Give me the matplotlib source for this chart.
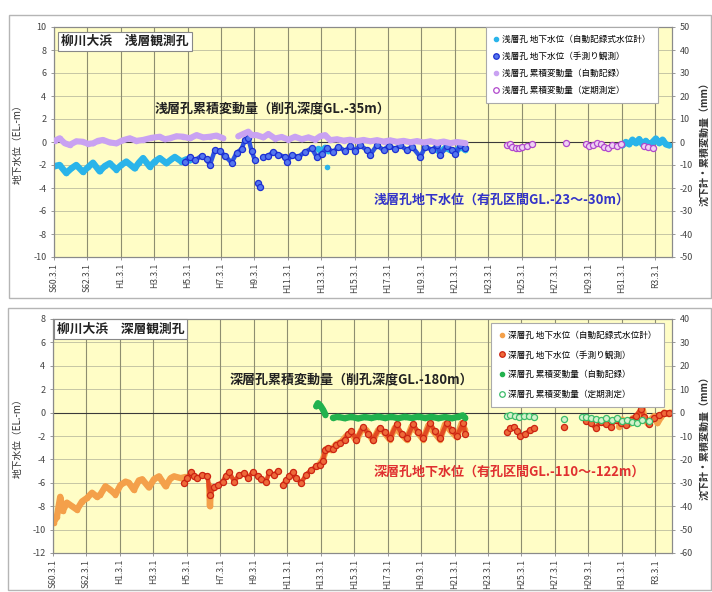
import numpy as np
import matplotlib
matplotlib.use('Agg')
import matplotlib.pyplot as plt
from matplotlib.lines import Line2D
from matplotlib.patches import Rectangle

plt.rcParams['font.family'] = ['Noto Sans CJK JP', 'DejaVu Sans']
nan = np.nan

# ---------------- axis ticks ----------------
tick_years = [1985.167 + 2 * k for k in range(19)]
tick_labels = ['S60.3.1', 'S62.3.1', 'H1.3.1', 'H3.3.1', 'H5.3.1', 'H7.3.1', 'H9.3.1',
               'H11.3.1', 'H13.3.1', 'H15.3.1', 'H17.3.1', 'H19.3.1', 'H21.3.1',
               'H23.3.1', 'H25.3.1', 'H27.3.1', 'H29.3.1', 'H31.3.1', 'R3.3.1']
x_range = (1985.167, 2022.167)

# ---------------- shallow well (top) ----------------
# groundwater level, automatic recorder (m)
sh_auto_yr = [1985.2, 1985.5, 1985.9, 1986.2, 1986.5, 1986.9, 1987.2, 1987.5, 1987.9, 1988.2,
              1988.5, 1988.9, 1989.2, 1989.5, 1990.0, 1990.25, 1990.5, 1990.9, 1991.2, 1991.5,
              1991.9, 1992.2, 1992.4, 1992.8, 1993.1, 1993.3, nan,
              2001.0, 2001.2, 2001.4, 2001.6, nan, 2001.5, nan,
              2008.0, 2008.3, 2008.6, 2008.9, 2009.2, 2009.5, 2009.8, nan,
              2019.2, 2019.4, 2019.6, 2019.8, 2020.0, 2020.2, 2020.4, 2020.6, 2020.8, 2021.0,
              2021.2, 2021.4, 2021.6, 2021.8, 2022.0]
sh_auto_lv = [-2.1, -2.0, -2.7, -2.3, -2.0, -2.6, -2.2, -1.8, -2.55, -2.1,
              -1.85, -2.4, -2.0, -1.7, -2.3, -1.8, -1.4, -2.15, -1.7, -1.4,
              -1.85, -1.5, -1.3, -1.7, -1.5, -1.6, nan,
              -0.6, -0.9, -0.5, -0.8, nan, -2.15, nan,
              -0.6, -0.9, -0.5, -0.7, -0.9, -0.4, -0.7, nan,
              -0.3, 0.0, -0.2, 0.2, -0.1, 0.25, -0.2, 0.1, -0.3, 0.0,
              0.3, -0.1, 0.2, -0.2, -0.3]

# groundwater level, manual measurement (m)
sh_man_yr = [1993.0, 1993.3, 1993.6, 1994.0, 1994.3, 1994.5, 1994.8, 1995.1, 1995.4, 1995.8,
             1996.1, 1996.4, 1996.6, 1996.8, 1997.0, 1997.2, nan, 1997.4, 1997.5, nan,
             1997.7, 1998.0, 1998.3, 1998.6, 1999.0, 1999.1, 1999.4, 1999.8, 2000.2, 2000.6,
             2000.9, 2001.2, 2001.5, 2001.9, 2002.2, 2002.6, 2002.9, 2003.2, 2003.5, 2003.9,
             2004.1, 2004.5, 2004.9, 2005.2, 2005.6, 2005.9, 2006.3, 2006.6, 2007.1, 2007.4,
             2007.8, 2008.1, 2008.3, 2008.7, 2009.0, 2009.2, 2009.5, 2009.8]
sh_man_lv = [-1.7, -1.3, -1.6, -1.2, -1.5, -2.0, -0.7, -0.8, -1.2, -1.8,
             -0.95, -0.6, 0.2, 0.35, -0.8, -1.6, nan, -3.6, -3.9, nan,
             -1.3, -1.2, -0.85, -1.1, -1.3, -1.7, -1.15, -1.3, -0.85, -0.55,
             -1.3, -1.0, -0.55, -0.85, -0.4, -0.8, -0.35, -0.75, -0.3, -0.7,
             -1.1, -0.3, -0.7, -0.35, -0.6, -0.3, -0.7, -0.4, -1.3, -0.4,
             -0.7, -0.3, -1.1, -0.35, -0.7, -1.0, -0.3, -0.55]

# cumulative displacement, automatic (mm)
sh_cum_yr = [1985.2, 1985.5, 1985.8, 1986.1, 1986.5, 1986.9, 1987.2, 1987.5, 1987.8, 1988.1,
             1988.5, 1988.9, 1989.3, 1989.7, 1990.1, 1990.5, 1991.0, 1991.5, 1991.8, 1992.1,
             1992.5, 1992.9, 1993.3, 1993.7, 1994.1, 1994.5, 1994.9, 1995.3, nan,
             1996.2, 1996.5, 1996.8, 1997.0, 1997.3, 1997.7, 1998.0, 1998.4, 1998.8, 1999.2,
             1999.6, 2000.0, 2000.4, 2000.8, 2001.1, 2001.4, 2001.7, 2002.1, 2002.5, 2002.9,
             2003.3, 2003.7, 2004.1, 2004.5, 2004.9, 2005.3, 2005.7, 2006.1, 2006.5, 2006.9,
             2007.3, 2007.7, 2008.1, 2008.5, 2008.9, 2009.3, 2009.8]
sh_cum_mm = [0.5, 1.6, -0.5, -1.3, 0.3, 0.1, -0.8, -0.6, 0.5, 0.9,
             -0.2, -0.6, 0.8, 1.6, 0.5, 0.9, 1.8, 2.3, 1.2, 1.6,
             2.5, 2.3, 1.6, 3.0, 2.0, 2.3, 2.8, 1.6, nan,
             2.5, 3.5, 4.5, 3.0, 3.0, 2.0, 3.5, 1.5, 2.2, 1.0,
             2.3, 1.2, 2.0, 1.0, 2.5, 3.0, 0.8, 1.2, 0.6, 1.0,
             0.4, 0.9, 0.3, 0.8, 0.2, 0.7, 0.1, 0.5, -0.1, 0.4,
             -0.2, 0.3, -0.3, 0.2, -0.5, 0.0, -0.5]

# cumulative displacement, periodic survey (mm)
sh_per_yr = [2012.3, 2012.45, 2012.6, 2012.8, 2013.0, 2013.2, 2013.5, 2013.8, 2015.8,
             2017.0, 2017.2, 2017.45, 2017.7, 2017.9, 2018.1, 2018.35, 2018.6, 2018.85, 2019.1,
             2020.5, 2020.75, 2021.0]
sh_per_mm = [-1.3, -1.0, -2.0, -2.7, -2.5, -2.0, -1.6, -1.0, -0.6,
             -1.0, -1.8, -1.2, -0.6, -1.0, -2.2, -2.5, -1.4, -1.6, -1.0,
             -1.6, -2.2, -2.4]

# ---------------- deep well (bottom) ----------------
dp_auto_yr = [1985.2, 1985.4, 1985.6, 1985.75, 1986.0, 1986.3, 1986.6, 1986.9, 1987.2, 1987.5,
              1987.8, 1988.0, 1988.3, 1988.6, 1988.9, 1989.2, 1989.5, 1989.7, 1990.0, 1990.3,
              1990.5, 1990.9, 1991.2, 1991.5, 1991.9, 1992.2, 1992.4, 1992.8, 1993.1, nan,
              1994.5, 1994.55, 1994.6, nan,
              2001.0, 2001.3, 2001.5, 2001.8, 2002.1, 2002.4, 2002.7, 2003.0, 2003.3, 2003.6,
              2003.9, 2004.3, 2004.6, 2004.9, 2005.3, 2005.6, 2005.9, 2006.3, 2006.6, 2006.9,
              2007.3, 2007.6, 2007.9, 2008.3, 2008.6, 2008.9, 2009.3, 2009.6, 2009.8, nan,
              2019.0, 2019.2, 2019.4, 2019.6, 2019.8, 2020.0, 2020.2, 2020.4, 2020.5, 2020.7,
              2020.9, 2021.1, 2021.3, 2021.5, 2021.7, 2021.9, 2022.1]
dp_auto_lv = [-9.4, -8.9, -7.2, -8.4, -7.7, -8.0, -8.3, -7.6, -7.3, -6.85,
              -7.2, -7.0, -6.3, -6.6, -7.0, -6.2, -5.9, -6.0, -6.6, -5.8,
              -5.7, -6.4, -5.7, -5.45, -6.3, -5.6, -5.45, -5.6, -5.5, nan,
              -6.2, -8.0, -6.5, nan,
              -4.6, -4.0, -3.1, -3.2, -2.7, -2.5, -2.0, -1.8, -2.4, -1.5,
              -1.5, -2.4, -1.5, -1.6, -2.3, -1.3, -1.7, -2.3, -1.2, -1.6,
              -2.3, -1.1, -1.6, -2.3, -1.0, -1.5, -2.1, -0.9, -1.5, nan,
              -1.2, -0.6, -0.9, -1.0, -0.5, -0.8, -0.2, 0.4, -0.3, -0.9,
              -0.6, -0.3, -0.9, -0.4, 0.0, -0.1, 0.0]

dp_man_yr = [1993.0, 1993.2, 1993.4, 1993.6, 1993.8, 1994.1, 1994.4, 1994.55, 1994.8, 1995.0,
             1995.3, 1995.5, 1995.7, 1996.0, 1996.3, 1996.6, 1996.8, 1997.1, 1997.4, 1997.6,
             1997.9, 1998.1, 1998.4, 1998.6, nan,
             1998.9, 1999.1, 1999.3, 1999.5, 1999.7, 2000.0, 2000.3, 2000.6, 2000.9, 2001.1,
             2001.3, 2001.45, 2001.6, 2001.9, 2002.1, 2002.3, 2002.6, 2002.8, 2003.0, 2003.3,
             2003.7, 2004.0, 2004.3, 2004.7, 2005.0, 2005.3, 2005.7, 2006.0, 2006.3, 2006.7,
             2007.0, 2007.3, 2007.7, 2008.0, 2008.3, 2008.7, 2009.0, 2009.3, 2009.7, 2009.8, nan,
             2012.3, 2012.5, 2012.7, 2012.9, 2013.1, 2013.4, 2013.7, 2013.9, nan, 2015.7, nan,
             2017.0, 2017.3, 2017.6, 2017.9, 2018.2, 2018.5, 2018.8, 2019.1, 2019.4, 2019.7,
             2020.0, 2020.3, 2020.5, 2020.8, 2021.1, 2021.4, 2021.7, 2022.0]
dp_man_lv = [-6.0, -5.6, -5.1, -5.4, -5.6, -5.3, -5.4, -7.0, -6.4, -6.2,
             -5.9, -5.4, -5.1, -5.9, -5.3, -5.2, -5.6, -5.1, -5.4, -5.7,
             -5.9, -5.1, -5.3, -5.0, nan,
             -6.15, -5.8, -5.4, -5.1, -5.6, -6.0, -5.3, -4.9, -4.6, -4.45,
             -4.1, -3.2, -3.0, -3.1, -2.8, -2.6, -2.3, -1.8, -1.6, -2.3,
             -1.2, -1.8, -2.3, -1.3, -1.7, -2.2, -1.0, -1.8, -2.2, -1.0,
             -1.7, -2.2, -0.9, -1.6, -2.2, -0.9, -1.5, -2.0, -0.85, -1.8, nan,
             -1.7, -1.3, -1.2, -1.6, -2.0, -1.8, -1.5, -1.3, nan, -1.2, nan,
             -0.7, -0.9, -1.3, -0.8, -1.0, -1.2, -0.6, -0.9, -1.1, -0.6,
             -0.3, 0.3, -0.4, -1.0, -0.5, -0.2, 0.0, 0.0]

dp_cum_yr = [2000.9, 2001.0, 2001.15, 2001.3, 2001.45, nan,
             2001.9, 2002.2, 2002.6, 2003.0, 2003.4, 2003.8, 2004.2, 2004.6, 2005.0, 2005.4,
             2005.8, 2006.2, 2006.6, 2007.0, 2007.4, 2007.8, 2008.2, 2008.6, 2009.0, 2009.4,
             2009.65, 2009.8]
dp_cum_mm = [2.7, 4.0, 3.0, 1.3, -0.9, nan,
             -2.2, -1.8, -2.4, -1.8, -2.5, -1.9, -2.3, -1.7, -2.3, -1.8,
             -2.4, -1.8, -2.3, -1.7, -2.3, -1.8, -2.4, -1.9, -2.4, -1.8,
             -1.2, -2.2]

dp_per_yr = [2012.3, 2012.5, 2012.8, 2013.0, 2013.3, 2013.6, 2013.9, 2015.7,
             2016.8, 2017.0, 2017.3, 2017.6, 2017.9, 2018.2, 2018.6, 2018.9, 2019.2, 2019.5,
             2019.8, 2020.1, 2020.4, 2020.8]
dp_per_mm = [-1.5, -1.2, -1.5, -2.0, -1.6, -1.5, -1.8, -2.8,
             -2.0, -1.8, -2.2, -2.8, -3.2, -2.5, -3.0, -2.5, -3.5, -3.0,
             -4.0, -4.3, -3.0, -3.5]

# ---------------- styling ----------------
BG = '#FFFDC6'
C_CYAN = '#2ab4ea'
C_BLUE_E, C_BLUE_F, C_BLUE_L = '#1d2fd2', '#5577ee', '#2f55e0'
C_LPUR = '#c9a2f2'
C_MAG_E, C_MAG_F = '#b048cc', '#efd2f4'
C_ORNG = '#f4a04a'
C_RED_E, C_RED_F, C_RED_L = '#cc2412', '#ee6a3a', '#e24a22'
C_GRN = '#22b24e'
C_GRN_E, C_GRN_F = '#3cbc6a', '#d4f2cc'

fig = plt.figure(figsize=(7.12, 5.92), dpi=100)
W, H = 712.0, 592.0

# panel frames
fig.add_artist(Rectangle((9 / W, 1 - 298 / H), (711 - 9) / W, (298 - 15) / H,
                         transform=fig.transFigure, fill=False, ec='#b5b5b5', lw=1.0))
fig.add_artist(Rectangle((8 / W, 1 - 590 / H), (711 - 8) / W, (590 - 308) / H,
                         transform=fig.transFigure, fill=False, ec='#b5b5b5', lw=1.0))


def make_axes(px_l, px_t, px_r, px_b, ylim, yticks, y2lim, y2ticks):
    ax = fig.add_axes([px_l / W, 1 - px_b / H, (px_r - px_l) / W, (px_b - px_t) / H])
    ax.set_facecolor(BG)
    ax.set_xlim(*x_range)
    ax.set_ylim(*ylim)
    ax.set_xticks(tick_years)
    ax.set_xticklabels(tick_labels, rotation=90, fontsize=6.2, color='#444')
    ax.set_yticks(yticks)
    ax.set_yticklabels([str(v) for v in yticks], fontsize=6.5, color='#444')
    ax.tick_params(length=2.5, width=0.6, color='#888', pad=3)
    ax.tick_params(axis='x', pad=2)
    for x in tick_years:
        ax.axvline(x, color='#8e8e70', lw=0.8, zorder=0.5)
    for y in yticks:
        ax.axhline(y, color='#c6c6a4', lw=0.7, zorder=0.4)
    ax.axhline(0, color='#3a3a3a', lw=0.8, zorder=0.6)
    for s in ax.spines.values():
        s.set_color('#8a8a8a')
        s.set_linewidth(0.8)
    ax2 = ax.twinx()
    ax2.set_ylim(*y2lim)
    ax2.set_yticks(y2ticks)
    ax2.set_yticklabels([str(v) for v in y2ticks], fontsize=6.5, color='#444')
    ax2.tick_params(length=2.5, width=0.6, color='#888', pad=3)
    for s in ax2.spines.values():
        s.set_color('#8a8a8a')
        s.set_linewidth(0.8)
    return ax, ax2


def auto(ax, x, y, c, lw=4.6, z=3):
    ax.plot(x, y, '-o', color=c, lw=lw, ms=4.0, mew=0, solid_capstyle='round',
            solid_joinstyle='round', zorder=z)


def manual(ax, x, y, ec, fc, lc=None, line=True, z=4):
    if line:
        ax.plot(x, y, '-', color=lc, lw=3.2, solid_capstyle='round',
                solid_joinstyle='round', zorder=z)
    ax.plot(x, y, 'o', ls='none', ms=4.4, mfc=fc, mec=ec, mew=0.9, zorder=z + 0.1)


def legend(ax2, labels, kinds, bbox, spacing):
    hs = []
    for (c, mfc), k in zip(kinds, labels):
        if mfc is None:
            hs.append(Line2D([], [], ls='none', marker='o', ms=3, mfc=c, mec=c))
        else:
            hs.append(Line2D([], [], ls='none', marker='o', ms=4, mfc=mfc, mec=c, mew=0.9))
    lg = ax2.legend(hs, labels, loc='upper right', bbox_to_anchor=bbox, borderaxespad=0,
                    fontsize=6.2, frameon=True, fancybox=False, framealpha=1,
                    edgecolor='#aaaaaa', handlelength=0.6, handletextpad=0.4,
                    labelspacing=spacing, borderpad=0.9)
    lg.get_frame().set_linewidth(0.8)
    lg.set_zorder(20)


# ===== top panel =====
ax, ax2 = make_axes(54, 27, 672, 257, (-10, 10), list(range(-10, 11, 2)),
                    (-50, 50), list(range(-50, 51, 10)))
auto(ax, sh_auto_yr, sh_auto_lv, C_CYAN)
manual(ax, sh_man_yr, sh_man_lv, C_BLUE_E, C_BLUE_F, C_BLUE_L)
auto(ax2, sh_cum_yr, sh_cum_mm, C_LPUR, lw=4.4)
manual(ax2, sh_per_yr, sh_per_mm, C_MAG_E, C_MAG_F, line=False)

ax.text(0.012, 0.965, '柳川大浜　浅層観測孔', transform=ax.transAxes, fontsize=9.2,
        fontweight='bold', color='#222', va='top', ha='left', zorder=25,
        bbox=dict(boxstyle='square,pad=0.25', fc='white', ec='#888', lw=0.8))
ax2.text(1991.2, 14.0, '浅層孔累積変動量（削孔深度GL.-35m）', fontsize=9.4,
         fontweight='bold', color='#222', ha='left', va='center', zorder=25)
ax2.text(2004.3, -25.2, '浅層孔地下水位（有孔区間GL.-23～-30m）', fontsize=9.4,
         fontweight='bold', color='#3434c8', ha='left', va='center', zorder=25)
legend(ax2, ['浅層孔 地下水位（自動記録式水位計）', '浅層孔 地下水位（手測り観測）',
             '浅層孔 累積変動量（自動記録）', '浅層孔 累積変動量（定期測定）'],
       [(C_CYAN, None), (C_BLUE_E, C_BLUE_F), (C_LPUR, None), (C_MAG_E, 'white')],
       (0.978, 1.0), 0.95)
fig.text(18 / W, 1 - 142 / H, '地下水位（EL.-m）', rotation=90, ha='center', va='center',
         fontsize=7, color='#333')
fig.text(704 / W, 1 - 142 / H, '沈下計・累積変動量（mm）', rotation=90, ha='center',
         va='center', fontsize=7.2, color='#333', fontweight='bold')

# ===== bottom panel =====
bx, bx2 = make_axes(53, 319, 672, 553, (-12, 8), list(range(-12, 9, 2)),
                    (-60, 40), list(range(-60, 41, 10)))
auto(bx, dp_auto_yr, dp_auto_lv, C_ORNG)
manual(bx, dp_man_yr, dp_man_lv, C_RED_E, C_RED_F, C_RED_L)
auto(bx2, dp_cum_yr, dp_cum_mm, C_GRN, lw=4.6)
manual(bx2, dp_per_yr, dp_per_mm, C_GRN_E, C_GRN_F, line=False)

bx.text(0.006, 0.985, '柳川大浜　深層観測孔', transform=bx.transAxes, fontsize=9.2,
        fontweight='bold', color='#222', va='top', ha='left', zorder=25,
        bbox=dict(boxstyle='square,pad=0.25', fc='white', ec='#888', lw=0.8))
bx2.text(1995.7, 13.6, '深層孔累積変動量（削孔深度GL.-180m）', fontsize=9.4,
         fontweight='bold', color='#222', ha='left', va='center', zorder=25)
bx2.text(2004.3, -25.2, '深層孔地下水位（有孔区間GL.-110～-122m）', fontsize=9.4,
         fontweight='bold', color='#e03030', ha='left', va='center', zorder=25)
legend(bx2, ['深層孔 地下水位（自動記録式水位計）', '深層孔 地下水位（手測り観測）',
             '深層孔 累積変動量（自動記録）', '深層孔 累積変動量（定期測定）'],
       [(C_ORNG, None), (C_RED_E, C_RED_F), (C_GRN, None), (C_GRN_E, 'white')],
       (0.987, 0.983), 1.25)
fig.text(18 / W, 1 - 436 / H, '地下水位（EL.-m）', rotation=90, ha='center', va='center',
         fontsize=7, color='#333')
fig.text(704 / W, 1 - 436 / H, '沈下計・累積変動量（mm）', rotation=90, ha='center',
         va='center', fontsize=7.2, color='#333', fontweight='bold')

fig.savefig('out.png', dpi=100, facecolor='white')
